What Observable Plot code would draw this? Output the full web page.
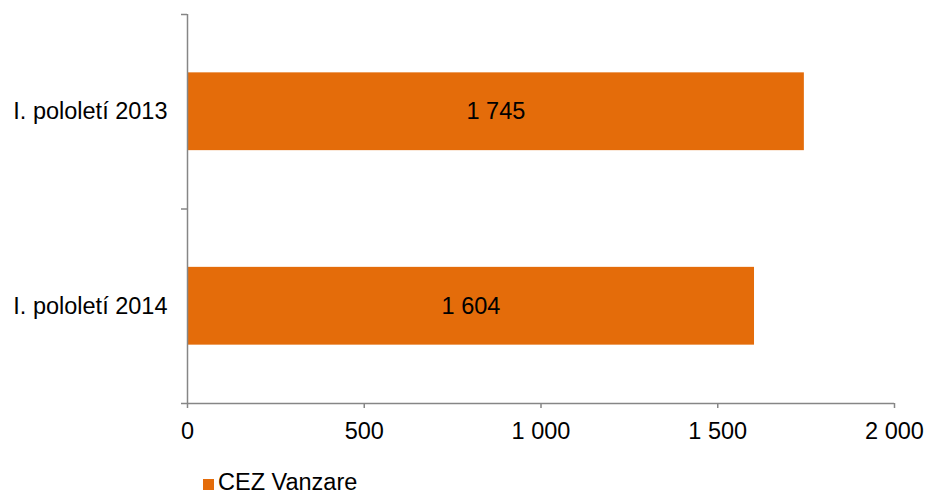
<!DOCTYPE html>
<html>
<head>
<meta charset="utf-8">
<script src="https://cdn.jsdelivr.net/npm/d3@7"></script>
<script src="https://cdn.jsdelivr.net/npm/@observablehq/plot@0.6"></script>
<style>
  body { margin: 0; background: #fff; font-family: "Liberation Sans", Arial, sans-serif; overflow: hidden; }
  #chart svg text { font-size: 23.5px; }
  #legend { position: relative; height: 35px; }
  #legend .sw { position: absolute; left: 203px; top: 19px; width: 11px; height: 11px; background: #E46C0A; }
  #legend .lb { position: absolute; left: 218px; top: 10px; font-size: 23.5px; color: #000; line-height: 24px; }
</style>
</head>
<body>
<div id="chart"></div>
<div id="legend"><div class="sw"></div><div class="lb">CEZ Vanzare</div></div>
<script>
const categories = ["I. pololetí 2013", "I. pololetí 2014"];
const values = [1745, 1604];
const xTicks = [0, 500, 1000, 1500, 2000];
const seriesName = "CEZ Vanzare";

const fmt = d => d3.format(",")(d).replace(/,/g, " ");
const data = categories.map((c, i) => ({cat: c, i, v: values[i]}));
const gray = "#868686";

const plot = Plot.plot({
  width: 927,
  height: 460,
  marginLeft: 187,
  marginRight: 33,
  marginTop: 14,
  marginBottom: 57,
  style: {fontFamily: "'Liberation Sans', Arial, sans-serif", fontSize: "23.5px", color: "#000", background: "#fff"},
  x: {domain: [0, 2000], label: null},
  y: {domain: [0, categories.length], reverse: true, label: null},
  marks: [
    Plot.rectX(data, {x1: 0, x2: "v", y1: d => d.i + 0.3, y2: d => d.i + 0.7, fill: "#E46C0A"}),
    Plot.text(data, {x: d => d.v / 2, y: d => d.i + 0.5, text: d => fmt(d.v), fill: "#000", fontSize: 23.5}),
    Plot.ruleX([0], {stroke: gray, strokeWidth: 1.5}),
    Plot.ruleY([categories.length], {stroke: gray, strokeWidth: 1.5}),
    Plot.axisY(d3.range(categories.length + 1), {tickSize: 6, tickFormat: () => "", stroke: gray, strokeWidth: 1.5, label: null}),
    Plot.axisY(data.map(d => d.i + 0.5), {tickSize: 0, tickPadding: 20, tickFormat: d => categories[Math.floor(d)], fontSize: 23.5, fill: "#000", label: null}),
    Plot.axisX(xTicks, {tickSize: 5, tickPadding: 14, tickFormat: fmt, stroke: gray, strokeWidth: 1.5, fontSize: 23.5, fill: "#000", label: null})
  ]
});
document.getElementById("chart").appendChild(plot);
</script>
</body>
</html>
